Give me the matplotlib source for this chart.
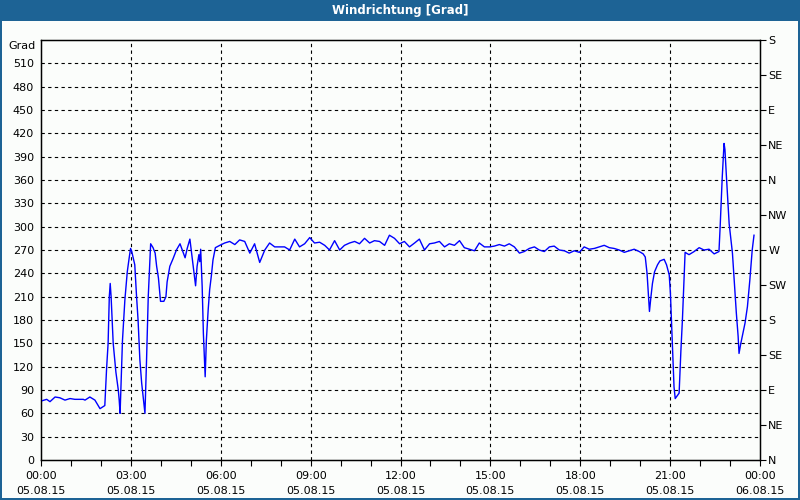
import matplotlib
matplotlib.use("Agg")
import matplotlib.pyplot as plt
from matplotlib.patches import Rectangle

# ---- data (hours since 05.08.15 00:00, wind direction in degrees) ----
hours = [0.02, 0.19, 0.30, 0.47, 0.63, 0.80, 0.97, 1.13, 1.41, 1.47, 1.63, 1.80, 1.97, 2.13,
         2.19, 2.24, 2.28, 2.31, 2.34, 2.41, 2.50, 2.58, 2.61, 2.64, 2.67, 2.72, 2.80, 2.88,
         2.94, 2.99, 3.03, 3.13, 3.19, 3.24, 3.30, 3.36, 3.41, 3.47, 3.52, 3.58, 3.66, 3.74,
         3.81, 3.86, 3.92, 3.99, 4.10, 4.17, 4.21, 4.30, 4.41, 4.52, 4.64, 4.81, 4.88, 4.97,
         5.02, 5.10, 5.16, 5.21, 5.27, 5.30, 5.33, 5.38, 5.42, 5.48, 5.52, 5.58, 5.63, 5.69,
         5.74, 5.82, 5.97, 6.13, 6.30, 6.47, 6.63, 6.80, 6.97, 7.13, 7.30, 7.47, 7.63, 7.80,
         8.13, 8.30, 8.47, 8.63, 8.80, 8.97, 9.13, 9.30, 9.47, 9.63, 9.80, 9.97, 10.13, 10.30,
         10.47, 10.63, 10.80, 10.97, 11.13, 11.30, 11.47, 11.63, 11.80, 11.97, 12.13, 12.30,
         12.47, 12.63, 12.80, 12.97, 13.13, 13.30, 13.47, 13.63, 13.80, 13.97, 14.13, 14.30,
         14.47, 14.63, 14.80, 14.97, 15.13, 15.30, 15.47, 15.63, 15.80, 15.97, 16.13, 16.30,
         16.47, 16.63, 16.80, 16.97, 17.13, 17.30, 17.47, 17.63, 17.80, 17.97, 18.13, 18.30,
         18.47, 18.63, 18.80, 18.97, 19.13, 19.30, 19.47, 19.63, 19.80, 19.97, 20.10, 20.17,
         20.23, 20.28, 20.31, 20.36, 20.41, 20.48, 20.58, 20.66, 20.80, 20.88, 20.97, 21.01,
         21.06, 21.10, 21.13, 21.17, 21.30, 21.36, 21.41, 21.47, 21.50, 21.63, 21.80, 21.97,
         22.13, 22.30, 22.47, 22.63, 22.67, 22.74, 22.80, 22.83, 22.88, 22.97, 23.08, 23.13,
         23.21, 23.27, 23.30, 23.36, 23.43, 23.50, 23.58, 23.66, 23.74, 23.80]
degrees = [76, 78, 75, 81, 80, 77, 79, 78, 78, 77, 81, 77, 66, 70,
           118, 150, 210, 227, 210, 150, 113, 90, 77, 60, 94, 154, 206, 242,
           259, 272, 268, 251, 210, 180, 129, 99, 81, 60, 124, 210, 278, 273,
           266, 249, 234, 204, 204, 210, 229, 249, 259, 270, 278, 260, 272, 284,
           268, 242, 224, 249, 264, 255, 271, 223, 163, 107, 154, 193, 219, 238,
           257, 273, 276, 279, 281, 277, 283, 281, 266, 278, 254, 270, 279, 274,
           274, 270, 284, 274, 278, 286, 279, 280, 276, 270, 282, 270, 276, 279,
           281, 278, 285, 279, 282, 281, 276, 289, 285, 278, 281, 274,
           279, 284, 270, 278, 279, 281, 274, 278, 276, 282, 273, 271,
           269, 279, 274, 274, 275, 277, 275, 278, 274, 266, 268, 272,
           274, 270, 268, 274, 275, 270, 269, 266, 269, 267, 274, 271,
           272, 274, 276, 273, 272, 270, 267, 269, 271, 268, 265, 261,
           240, 210, 191, 210, 227, 242, 251, 256, 258, 251, 238, 214,
           163, 124, 94, 79, 86, 141, 180, 240, 267, 264, 268, 273,
           270, 271, 265, 268, 300, 364, 407, 399, 364, 304, 266, 236,
           189, 159, 137, 150, 163, 176, 197, 231, 270, 289]

left_ticks = list(range(0, 511, 30))
right_ticks = list(range(0, 541, 45))
right_labels = ["N", "NE", "E", "SE", "S", "SW", "W", "NW", "N", "NE", "E", "SE", "S"]
x_ticks = [0, 3, 6, 9, 12, 15, 18, 21, 24]
x_labels = ["00:00\n05.08.15", "03:00\n05.08.15", "06:00\n05.08.15", "09:00\n05.08.15",
            "12:00\n05.08.15", "15:00\n05.08.15", "18:00\n05.08.15", "21:00\n05.08.15",
            "00:00\n06.08.15"]
title = "Windrichtung [Grad]"

# ---- figure ----
bg = "#fbfdfb"
blue = "#1d6395"
fig = plt.figure(figsize=(8, 5), dpi=100, facecolor=bg)
plt.rcParams["font.family"] = ["DejaVu Sans"]

# title bar and frame
fig.patches.append(Rectangle((0, 1 - 21 / 500), 1, 21 / 500, transform=fig.transFigure,
                             facecolor=blue, edgecolor="none", zorder=0))
for (x0, y0, w, h) in [(0, 0, 2 / 800, 1), (1 - 2 / 800, 0, 2 / 800, 1), (0, 0, 1, 2 / 500)]:
    fig.patches.append(Rectangle((x0, y0), w, h, transform=fig.transFigure,
                                 facecolor=blue, edgecolor="none", zorder=0))
fig.text(0.5, 1 - 10.5 / 500, title, color="white", fontsize=8.5, fontweight="bold",
         ha="center", va="center")

ax = fig.add_axes([41 / 800, 40 / 500, 719 / 800, 420 / 500])
ax.set_facecolor(bg)
ax.plot(hours, degrees, color="#0000ff", linewidth=1.0, zorder=3)

ax.set_xlim(0, 24)
ax.set_ylim(0, 540)
ax.set_yticks(left_ticks)
ax.set_yticklabels([str(t) for t in left_ticks])
ax.set_xticks(x_ticks)
ax.set_xticklabels(x_labels, linespacing=1.55)
ax.set_xticks(range(0, 25), minor=True)
ax.tick_params(axis="x", which="both", direction="out", length=4, width=0.8,
               labelsize=8, pad=4, color="black")
ax.tick_params(axis="y", which="both", direction="out", length=0, labelsize=8, pad=5)

for v in left_ticks[1:]:
    ax.axhline(v, color="black", linewidth=0.8, linestyle=(0, (3, 3)), zorder=1)
for t in x_ticks[1:-1]:
    ax.axvline(t, color="black", linewidth=0.8, linestyle=(0, (3, 3)), zorder=1)

for s in ax.spines.values():
    s.set_color("black")
    s.set_linewidth(1.0)

ax2 = ax.twinx()
ax2.set_ylim(0, 540)
ax2.set_yticks(right_ticks)
ax2.set_yticklabels(right_labels)
ax2.tick_params(axis="y", direction="out", length=4, width=0.8, labelsize=8, pad=2)

ax.text(-5 / 719, 532 / 540, "Grad", transform=ax.transAxes, ha="right", va="center",
        fontsize=8)

fig.savefig("out.png", dpi=100, facecolor=bg)
